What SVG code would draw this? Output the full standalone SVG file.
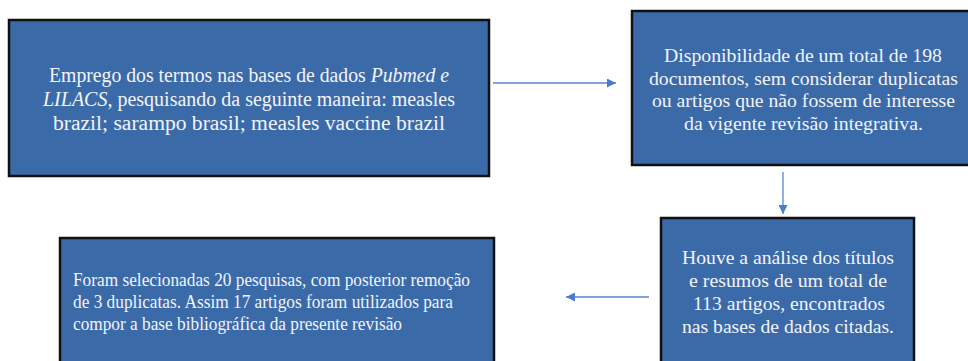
<svg xmlns="http://www.w3.org/2000/svg" width="968" height="361" viewBox="0 0 968 361">
<style>
.box{fill:#3B6AA8;stroke:#111;stroke-width:2.5}
.t{font-family:"Liberation Serif","Times New Roman",serif;font-size:19.5px;fill:#F2F4F8}
.b1{font-size:20.5px}
.b4{font-size:18px}
.c{text-anchor:middle}
.edge{stroke:#5585CF;stroke-width:1.3;fill:none;marker-end:url(#ah)}
</style>
<defs>
<marker id="ah" viewBox="0 0 10 10" refX="10" refY="5" markerWidth="10" markerHeight="9" markerUnits="userSpaceOnUse" orient="auto">
<path d="M0,0 L10,5 L0,10 Z" fill="#4A7CCB"/>
</marker>
</defs>
<rect width="968" height="361" fill="#fff"/>
<g id="n1">
<rect class="box" x="9" y="20" width="480" height="156"/>
<text class="t b1" x="49" y="82" textLength="400" lengthAdjust="spacingAndGlyphs">Emprego dos termos nas bases de dados <tspan font-style="italic">Pubmed e</tspan></text>
<text class="t b1" x="43" y="106" textLength="412" lengthAdjust="spacingAndGlyphs"><tspan font-style="italic">LILACS</tspan>, pesquisando da seguinte maneira: measles</text>
<text class="t b1" x="53" y="130" textLength="392" lengthAdjust="spacingAndGlyphs">brazil; sarampo brasil; measles vaccine brazil</text>
</g>
<g id="n2">
<rect class="box" x="632" y="11" width="340" height="154"/>
<text class="t" x="664" y="62" textLength="278" lengthAdjust="spacingAndGlyphs">Disponibilidade de um total de 198</text>
<text class="t" x="649" y="85" textLength="309" lengthAdjust="spacingAndGlyphs">documentos, sem considerar duplicatas</text>
<text class="t" x="652" y="107" textLength="303" lengthAdjust="spacingAndGlyphs">ou artigos que não fossem de interesse</text>
<text class="t" x="684" y="130" textLength="239" lengthAdjust="spacingAndGlyphs">da vigente revisão integrativa.</text>
</g>
<g id="n3">
<rect class="box" x="661" y="218" width="253" height="150"/>
<text class="t" x="682" y="264" textLength="212" lengthAdjust="spacingAndGlyphs">Houve a análise dos títulos</text>
<text class="t" x="689" y="287" textLength="198" lengthAdjust="spacingAndGlyphs">e resumos de um total de</text>
<text class="t" x="693" y="310" textLength="192" lengthAdjust="spacingAndGlyphs">113 artigos, encontrados</text>
<text class="t" x="682" y="333" textLength="212" lengthAdjust="spacingAndGlyphs">nas bases de dados citadas.</text>
</g>
<g id="n4">
<rect class="box" x="60" y="238" width="434" height="130"/>
<text class="t b4" x="73" y="286" textLength="397" lengthAdjust="spacingAndGlyphs">Foram selecionadas 20 pesquisas, com posterior remoção</text>
<text class="t b4" x="73" y="308" textLength="380" lengthAdjust="spacingAndGlyphs">de 3 duplicatas. Assim 17 artigos foram utilizados para</text>
<text class="t b4" x="73" y="330" textLength="329" lengthAdjust="spacingAndGlyphs">compor a base bibliográfica da presente revisão</text>
</g>
<g id="edges">
<line class="edge" x1="493" y1="83" x2="616" y2="83"/>
<line class="edge" x1="783" y1="172" x2="783" y2="214"/>
<line class="edge" x1="649" y1="297" x2="566" y2="297"/>
</g>
</svg>
